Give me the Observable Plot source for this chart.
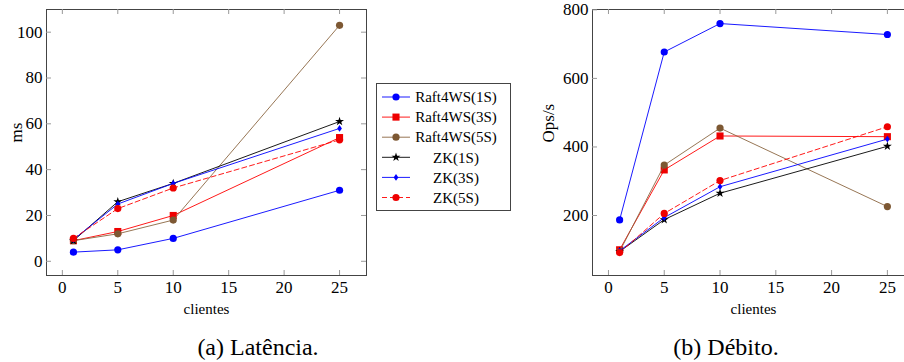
<!DOCTYPE html>
<html>
<head>
<meta charset="utf-8">
<script src="https://cdn.jsdelivr.net/npm/d3@7"></script>
<script src="https://cdn.jsdelivr.net/npm/@observablehq/plot@0.6"></script>
<style>
  html, body { margin: 0; padding: 0; background: #fff; }
  #page { position: relative; width: 904px; height: 362px; overflow: hidden; background: #fff; font-family: 'Liberation Serif', 'DejaVu Serif', 'Times New Roman', serif; }
  .abs { position: absolute; top: 0; }
  #page svg, #page svg text { font-family: 'Liberation Serif', 'DejaVu Serif', 'Times New Roman', serif !important; }
</style>
</head>
<body>
<div id="page"></div>
<script>
// ---------- data ----------
const clients = [1, 5, 10, 25];
const seriesNames = ["Raft4WS(1S)", "Raft4WS(3S)", "Raft4WS(5S)", "ZK(1S)", "ZK(3S)", "ZK(5S)"];

// latency (ms)
const latRaft1 = [4, 5, 10, 31];
const latRaft3 = [9, 13, 20, 54];
const latRaft5 = [9, 12, 18, 103];
const latZK1 = [9, 26, 34, 61];
const latZK3 = [9.5, 25, 34, 58];
const latZK5 = [10, 23, 32, 53];

// throughput (Ops/s)
const thrRaft1 = [187, 677, 760, 728];
const thrRaft3 = [100, 333, 432, 430];
const thrRaft5 = [95, 347, 455, 226];
const thrZK1 = [95, 188, 265, 402];
const thrZK3 = [97, 194, 284, 423];
const thrZK5 = [92, 206, 302, 459];

const xTicks = [0, 5, 10, 15, 20, 25];
const latTicks = [0, 20, 40, 60, 80, 100];
const thrTicks = [200, 400, 600, 800];

const xLabel = "clientes";
const latLabel = "ms";
const thrLabel = "Ops/s";
const captionA = "(a) Latência.";
const captionB = "(b) Débito.";

// ---------- styles ----------
const FONT = "'Liberation Serif', 'DejaVu Serif', 'Times New Roman', serif";
const tallDiamond = {
  draw(ctx, size) {
    const h = Math.sqrt(size / Math.PI) * 1.25;
    ctx.moveTo(0, -h); ctx.lineTo(h * 0.7, 0); ctx.lineTo(0, h); ctx.lineTo(-h * 0.7, 0); ctx.closePath();
  }
};
const styles = [
  {stroke: "#0000ff", fill: "#0000ff", symbol: "circle", r: 3.6, dash: null},
  {stroke: "#ff0000", fill: "#ee0000", symbol: "square", r: 4.0, dash: null},
  {stroke: "#8b6642", fill: "#7d5833", symbol: "circle", r: 3.6, dash: null},
  {stroke: "#000000", fill: "#000000", symbol: "star", r: 2.8, dash: null},
  {stroke: "#0000ff", fill: "#0000ff", symbol: tallDiamond, r: 2.7, dash: null},
  {stroke: "#ff0000", fill: "#ee0000", symbol: "circle", r: 3.6, dash: "5,3"}
];

function rows(valueArrays) {
  return valueArrays.map((vals, s) => clients.map((c, i) => ({series: seriesNames[s], x: c, y: vals[i]})));
}

function panel({data, yDomain, yTicks, yLabel, width, marginLeft, ylabelDx}) {
  const marginTop = 9, marginBottom = 55, marginRight = 4, height = 330;
  const fw = width - marginLeft - marginRight;
  const fh = height - marginTop - marginBottom;
  const marks = [
    Plot.frame({stroke: "#444", strokeWidth: 1}),
    Plot.tickX(xTicks, {x: d => d, insetTop: fh - 5, stroke: "#999"}),
    Plot.tickX(xTicks, {x: d => d, insetBottom: fh - 5, stroke: "#999"}),
    Plot.tickY(yTicks, {y: d => d, insetRight: fw - 5, stroke: "#999"}),
    Plot.tickY(yTicks, {y: d => d, insetLeft: fw - 5, stroke: "#999"}),
    Plot.axisX({ticks: xTicks, tickSize: 0, tickPadding: 5, label: null}),
    Plot.axisY({ticks: yTicks, tickSize: 0, tickPadding: 4, label: null}),
    Plot.text([xLabel], {text: d => d, frameAnchor: "bottom", dy: 38, fontSize: 15}),
    Plot.text([yLabel], {text: d => d, frameAnchor: "left", dx: ylabelDx, rotate: -90, fontSize: 17})
  ];
  data.forEach((sr, s) => {
    const st = styles[s];
    marks.push(Plot.line(sr, {x: "x", y: "y", stroke: st.stroke, strokeWidth: 0.9, strokeDasharray: st.dash}));
    marks.push(Plot.dot(sr, {x: "x", y: "y", symbol: () => st.symbol, fill: st.fill, stroke: "none", r: st.r}));
  });
  return Plot.plot({
    width, height, marginLeft, marginRight, marginTop, marginBottom,
    x: {domain: [-1.43, 27.43], label: null},
    y: {domain: yDomain, label: null},
    symbol: {type: "identity"},
    style: {fontFamily: FONT, fontSize: "17px", background: "transparent", color: "#000", overflow: "visible"},
    marks
  });
}

const page = document.getElementById("page");

const p1 = panel({
  data: rows([latRaft1, latRaft3, latRaft5, latZK1, latZK3, latZK5]),
  yDomain: [-6.2, 109.9], yTicks: latTicks, yLabel: latLabel,
  width: 370, marginLeft: 46, ylabelDx: -30
});
p1.classList.add("abs"); p1.style.left = "0px";
page.appendChild(p1);

const p2 = panel({
  data: rows([thrRaft1, thrRaft3, thrRaft5, thrZK1, thrZK3, thrZK5]),
  yDomain: [25, 801], yTicks: thrTicks, yLabel: thrLabel,
  width: 398, marginLeft: 72, ylabelDx: -44
});
p2.classList.add("abs"); p2.style.left = "520px";
page.appendChild(p2);

// ---------- legend ----------
const symMap = {circle: d3.symbolCircle, square: d3.symbolSquare, star: d3.symbolStar};
const lg = d3.select(page).append("svg")
  .attr("class", "abs")
  .style("left", "376px").style("top", "83px")
  .attr("width", 136).attr("height", 129);
lg.append("rect").attr("x", 0.5).attr("y", 0.5).attr("width", 134).attr("height", 127)
  .attr("fill", "#fff").attr("stroke", "#444");
seriesNames.forEach((name, i) => {
  const st = styles[i];
  const y = 14 + i * 20.1;
  const g = lg.append("g");
  g.append("line").attr("x1", 6).attr("x2", 34).attr("y1", y).attr("y2", y)
    .attr("stroke", st.stroke).attr("stroke-width", 0.9)
    .attr("stroke-dasharray", st.dash);
  const t = typeof st.symbol === "string" ? symMap[st.symbol] : st.symbol;
  g.append("path").attr("transform", `translate(20,${y})`)
    .attr("d", d3.symbol(t, Math.PI * st.r * st.r)())
    .attr("fill", st.fill);
  g.append("text").attr("x", 80).attr("y", y).attr("dy", "0.35em")
    .attr("text-anchor", "middle").style("font-size", "15px")
    .text(name);
});

// ---------- captions ----------
const cap = d3.select(page).append("svg").attr("class", "abs")
  .style("left", "0px").attr("width", 904).attr("height", 362)
  .style("pointer-events", "none");
cap.append("text").attr("x", 258).attr("y", 355).attr("text-anchor", "middle")
  .style("font-size", "24px").text(captionA);
cap.append("text").attr("x", 726).attr("y", 355).attr("text-anchor", "middle")
  .style("font-size", "24px").text(captionB);
</script>
</body>
</html>
